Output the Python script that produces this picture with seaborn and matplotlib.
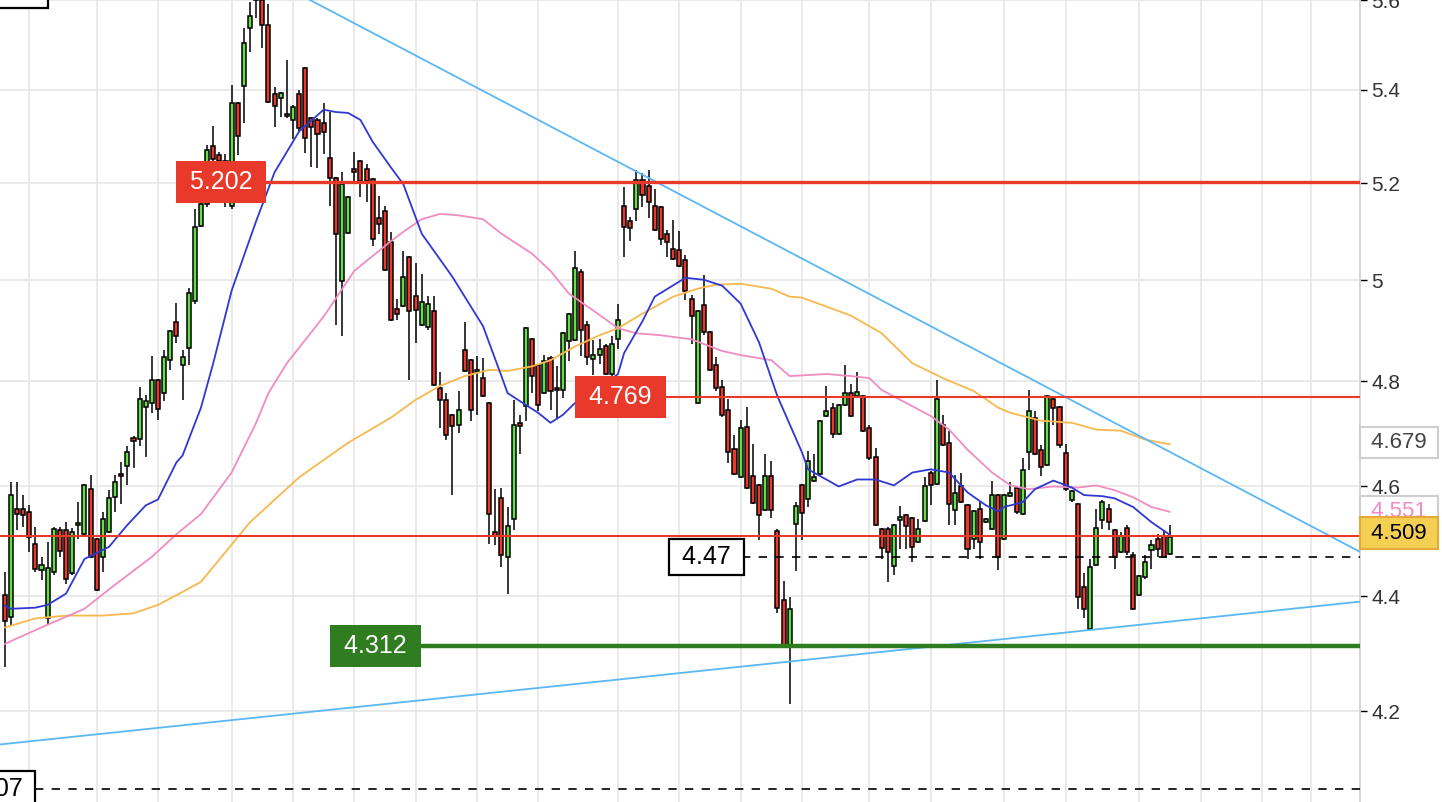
import numpy as np
import pandas as pd
import matplotlib
matplotlib.use("Agg")
import matplotlib.pyplot as plt
import matplotlib.transforms as mtransforms
from matplotlib.ticker import NullLocator
import seaborn as sns

# daily candles, index 0..190
OPENS = [4.403, 4.364, 4.558, 4.558, 4.552, 4.494, 4.448, 4.361, 4.444, 4.520,
         4.520, 4.441, 4.529, 4.512, 4.595, 4.503, 4.471, 4.516, 4.580, 4.623,
         4.639, 4.692, 4.690, 4.751, 4.758, 4.802, 4.777, 4.841, 4.916, 4.831,
         4.864, 4.959, 5.111, 5.156, 5.278, 5.259, 5.248, 5.152, 5.372, 5.408,
         5.538, 5.650, 5.600, 5.543, 5.391, 5.382, 5.348, 5.335, 5.391, 5.448,
         5.340, 5.335, 5.329, 5.254, 5.212, 4.999, 5.097, 5.231, 5.246, 5.231,
         5.208, 5.127, 5.142, 5.078, 4.943, 4.949, 5.048, 4.969, 4.910, 4.906,
         4.939, 4.787, 4.764, 4.735, 4.716, 4.861, 4.841, 4.818, 4.806, 4.758,
         4.516, 4.578, 4.471, 4.540, 4.720, 4.752, 4.882, 4.831, 4.777, 4.845,
         4.787, 4.783, 4.878, 4.880, 5.017, 4.910, 4.843, 4.851, 4.868, 4.814,
         4.883, 5.152, 5.121, 5.146, 5.206, 5.194, 5.152, 5.150, 5.095, 5.064,
         5.062, 5.042, 4.963, 4.758, 4.950, 4.897, 4.831, 4.789, 4.745, 4.671,
         4.617, 4.712, 4.620, 4.603, 4.557, 4.620, 4.518, 4.393, 4.312, 4.531,
         4.602, 4.576, 4.611, 4.624, 4.733, 4.749, 4.699, 4.754, 4.777, 4.772,
         4.772, 4.711, 4.656, 4.521, 4.521, 4.455, 4.538, 4.547, 4.542, 4.498,
         4.536, 4.626, 4.604, 4.716, 4.682, 4.556, 4.600, 4.565, 4.503, 4.558,
         4.534, 4.521, 4.584, 4.503, 4.582, 4.597, 4.549, 4.664, 4.730, 4.669,
         4.641, 4.766, 4.751, 4.662, 4.574, 4.567, 4.417, 4.342, 4.456, 4.538,
         4.558, 4.520, 4.480, 4.523, 4.474, 4.403, 4.435, 4.483, 4.503, 4.509,
         4.476]
HIGHS = [4.444, 4.608, 4.608, 4.584, 4.565, 4.525, 4.471, 4.498, 4.525, 4.525,
         4.534, 4.523, 4.571, 4.604, 4.621, 4.505, 4.552, 4.593, 4.622, 4.645,
         4.675, 4.694, 4.789, 4.773, 4.849, 4.804, 4.861, 4.900, 4.955, 4.861,
         4.985, 5.146, 5.171, 5.282, 5.322, 5.267, 5.261, 5.411, 5.374, 5.536,
         5.595, 5.670, 5.610, 5.590, 5.406, 5.395, 5.465, 5.368, 5.400, 5.450,
         5.342, 5.340, 5.372, 5.352, 5.214, 5.223, 5.173, 5.267, 5.250, 5.240,
         5.212, 5.173, 5.152, 5.099, 4.963, 5.060, 5.050, 5.035, 5.013, 4.969,
         4.969, 4.818, 4.777, 4.737, 4.781, 4.916, 4.843, 4.849, 4.845, 4.760,
         4.595, 4.598, 4.562, 4.764, 4.735, 4.906, 4.884, 4.833, 4.851, 4.849,
         4.829, 4.896, 4.935, 5.060, 5.023, 4.918, 4.880, 4.883, 4.872, 4.888,
         4.953, 5.192, 5.129, 5.228, 5.221, 5.228, 5.188, 5.152, 5.103, 5.123,
         5.101, 5.052, 4.971, 4.941, 5.011, 4.899, 4.848, 4.803, 4.765, 4.697,
         4.726, 4.751, 4.680, 4.604, 4.660, 4.647, 4.521, 4.428, 4.399, 4.571,
         4.604, 4.667, 4.660, 4.726, 4.791, 4.758, 4.756, 4.831, 4.795, 4.818,
         4.774, 4.716, 4.673, 4.523, 4.525, 4.531, 4.563, 4.549, 4.544, 4.540,
         4.617, 4.628, 4.802, 4.735, 4.705, 4.622, 4.626, 4.567, 4.556, 4.571,
         4.541, 4.611, 4.586, 4.586, 4.608, 4.599, 4.654, 4.783, 4.743, 4.677,
         4.774, 4.772, 4.753, 4.679, 4.593, 4.569, 4.441, 4.467, 4.558, 4.574,
         4.567, 4.522, 4.516, 4.529, 4.480, 4.439, 4.474, 4.502, 4.512, 4.520,
         4.529]
LOWS = [4.277, 4.350, 4.520, 4.525, 4.480, 4.444, 4.430, 4.350, 4.439, 4.471,
        4.423, 4.438, 4.503, 4.510, 4.469, 4.410, 4.444, 4.514, 4.552, 4.567,
        4.602, 4.635, 4.675, 4.656, 4.739, 4.726, 4.762, 4.822, 4.874, 4.764,
        4.831, 4.953, 5.109, 5.150, 5.233, 5.219, 5.150, 5.146, 5.259, 5.329,
        5.483, 5.560, 5.492, 5.372, 5.320, 5.342, 5.340, 5.293, 5.310, 5.265,
        5.235, 5.233, 5.261, 5.152, 4.910, 4.888, 5.095, 5.198, 5.171, 5.160,
        5.070, 5.095, 5.019, 4.918, 4.921, 4.947, 4.802, 4.874, 4.908, 4.900,
        4.791, 4.711, 4.688, 4.585, 4.701, 4.818, 4.724, 4.735, 4.770, 4.494,
        4.492, 4.453, 4.405, 4.520, 4.660, 4.724, 4.777, 4.743, 4.775, 4.745,
        4.730, 4.768, 4.839, 4.878, 4.849, 4.831, 4.812, 4.833, 4.812, 4.810,
        4.862, 5.048, 5.080, 5.121, 5.150, 5.127, 5.101, 5.072, 5.048, 5.042,
        5.027, 4.961, 4.872, 4.756, 4.890, 4.820, 4.782, 4.732, 4.643, 4.621,
        4.615, 4.595, 4.568, 4.502, 4.555, 4.541, 4.371, 4.310, 4.213, 4.446,
        4.502, 4.562, 4.609, 4.621, 4.731, 4.692, 4.697, 4.752, 4.731, 4.768,
        4.703, 4.649, 4.527, 4.467, 4.426, 4.439, 4.485, 4.485, 4.462, 4.496,
        4.534, 4.565, 4.602, 4.675, 4.529, 4.529, 4.569, 4.467, 4.485, 4.467,
        4.533, 4.519, 4.448, 4.501, 4.580, 4.550, 4.547, 4.630, 4.658, 4.619,
        4.639, 4.716, 4.673, 4.591, 4.571, 4.377, 4.361, 4.340, 4.454, 4.521,
        4.520, 4.449, 4.478, 4.474, 4.376, 4.401, 4.431, 4.449, 4.471, 4.469,
        4.474]
CLOSES = [4.357, 4.584, 4.549, 4.547, 4.507, 4.449, 4.456, 4.451, 4.521, 4.482,
          4.431, 4.516, 4.532, 4.602, 4.471, 4.412, 4.540, 4.578, 4.608, 4.620,
          4.665, 4.686, 4.766, 4.762, 4.802, 4.747, 4.847, 4.898, 4.888, 4.847,
          4.975, 5.109, 5.156, 5.271, 5.252, 5.248, 5.160, 5.372, 5.301, 5.503,
          5.565, 5.600, 5.543, 5.374, 5.365, 5.393, 5.344, 5.363, 5.318, 5.297,
          5.320, 5.305, 5.310, 5.212, 5.095, 5.198, 5.171, 5.223, 5.204, 5.204,
          5.084, 5.115, 5.021, 4.920, 4.933, 5.007, 4.939, 4.941, 4.957, 4.953,
          4.793, 4.764, 4.696, 4.714, 4.745, 4.820, 4.745, 4.822, 4.772, 4.549,
          4.509, 4.474, 4.527, 4.716, 4.714, 4.904, 4.810, 4.754, 4.839, 4.781,
          4.783, 4.894, 4.933, 5.025, 4.900, 4.847, 4.851, 4.863, 4.814, 4.872,
          4.921, 5.109, 5.106, 5.206, 5.176, 5.161, 5.103, 5.084, 5.078, 5.044,
          5.029, 4.979, 4.929, 4.939, 4.897, 4.822, 4.786, 4.734, 4.665, 4.623,
          4.711, 4.597, 4.570, 4.548, 4.620, 4.557, 4.380, 4.312, 4.377, 4.563,
          4.551, 4.647, 4.617, 4.724, 4.743, 4.699, 4.754, 4.777, 4.733, 4.779,
          4.705, 4.654, 4.529, 4.487, 4.480, 4.529, 4.543, 4.527, 4.489, 4.521,
          4.600, 4.602, 4.766, 4.677, 4.567, 4.587, 4.571, 4.485, 4.554, 4.498,
          4.540, 4.584, 4.471, 4.584, 4.587, 4.552, 4.630, 4.743, 4.660, 4.637,
          4.772, 4.749, 4.677, 4.595, 4.591, 4.399, 4.377, 4.453, 4.523, 4.572,
          4.534, 4.471, 4.509, 4.480, 4.378, 4.437, 4.462, 4.492, 4.485, 4.471,
          4.507]

# moving averages, sampled at candle index
MA_FAST_X = [0, 1, 5, 7, 10, 13, 17, 20, 23, 25, 28, 29, 32, 34, 37, 41, 44, 48,
             52, 54, 56, 58, 60, 63, 65, 68, 73, 78, 81, 82, 85, 87, 89, 91, 93,
             97, 100, 101, 104, 106, 111, 114, 117, 120, 123, 126, 130, 131, 136,
             139, 142, 145, 148, 151, 154, 157, 160, 162, 163, 166, 168, 171, 174,
             176, 179, 181, 184, 187, 190]
MA_FAST_Y = [4.384, 4.378, 4.380, 4.385, 4.405, 4.467, 4.489, 4.529, 4.565, 4.576,
             4.645, 4.658, 4.749, 4.835, 4.979, 5.121, 5.223, 5.310, 5.357, 5.352,
             5.350, 5.335, 5.288, 5.233, 5.198, 5.095, 5.007, 4.908, 4.810, 4.777,
             4.754, 4.739, 4.720, 4.735, 4.758, 4.787, 4.814, 4.855, 4.918, 4.967,
             5.005, 5.001, 4.989, 4.953, 4.876, 4.771, 4.664, 4.632, 4.600, 4.613,
             4.613, 4.602, 4.626, 4.632, 4.626, 4.589, 4.565, 4.554, 4.562, 4.571,
             4.595, 4.611, 4.598, 4.584, 4.582, 4.578, 4.562, 4.534, 4.511]
MA_MID_X = [0, 2, 7, 13, 18, 24, 28, 32, 37, 41, 43, 46, 52, 57, 63, 65, 68, 71,
            74, 78, 81, 86, 89, 92, 96, 100, 103, 107, 112, 117, 120, 125, 128,
            134, 138, 141, 143, 147, 151, 154, 157, 161, 164, 167, 171, 175, 178,
            181, 184, 187, 190]
MA_MID_Y = [4.316, 4.326, 4.350, 4.378, 4.421, 4.471, 4.512, 4.549, 4.626, 4.720,
            4.777, 4.835, 4.927, 5.019, 5.080, 5.099, 5.125, 5.136, 5.133, 5.125,
            5.095, 5.054, 5.019, 4.973, 4.939, 4.904, 4.894, 4.890, 4.882, 4.859,
            4.851, 4.841, 4.810, 4.814, 4.810, 4.806, 4.783, 4.758, 4.733, 4.707,
            4.669, 4.626, 4.602, 4.595, 4.600, 4.598, 4.602, 4.593, 4.580, 4.562,
            4.553]
MA_SLOW_X = [0, 5, 10, 16, 21, 25, 29, 32, 40, 48, 56, 63, 67, 71, 75, 79, 82, 86,
             89, 93, 97, 100, 104, 109, 113, 116, 120, 125, 128, 130, 138, 143,
             148, 153, 158, 162, 164, 169, 174, 178, 182, 186, 190]
MA_SLOW_Y = [4.345, 4.361, 4.366, 4.366, 4.370, 4.385, 4.408, 4.426, 4.534, 4.617,
             4.682, 4.730, 4.764, 4.791, 4.810, 4.822, 4.820, 4.829, 4.841, 4.868,
             4.890, 4.904, 4.933, 4.967, 4.983, 4.991, 4.993, 4.983, 4.967, 4.965,
             4.929, 4.894, 4.835, 4.806, 4.781, 4.749, 4.739, 4.724, 4.720, 4.707,
             4.705, 4.688, 4.679]

# trend lines (index, price)
TREND_DOWN = ([48.15, 221.0], [5.612, 4.480])
TREND_UP = ([-0.77, 221.0], [4.1443, 4.3907])

LEVEL_HIGH = 5.202
LEVEL_MID = 4.769
LEVEL_LAST = 4.509
LEVEL_PIVOT = 4.47
LEVEL_LOW = 4.312
LEVEL_FLOOR = 4.07

Y_TICKS = [4.2, 4.4, 4.6, 4.8, 5.0, 5.2, 5.4, 5.6]
Y_TICK_LABELS = ["4.2", "4.4", "4.6", "4.8", "5", "5.2", "5.4", "5.6"]
GRID_X = [4, 15, 25, 37, 47, 57, 67, 77, 87, 100, 110, 120, 130, 141, 151, 163,
          173, 185, 195, 205, 213]

RED = "#e8392b"
GREEN_BODY = "#66df46"
LINE_GREEN = "#2f7d20"
BLUE = "#2f38d3"
PINK = "#f08cc2"
ORANGE = "#f7b84d"
SKY = "#5bb7f3"
THIN = "\u2009"

sns.set_theme(style="white")
plt.rcParams["font.family"] = ["Liberation Sans", "DejaVu Sans"]

df = pd.DataFrame({"open": OPENS, "high": HIGHS, "low": LOWS, "close": CLOSES})
df["i"] = np.arange(len(df))
up = df["close"] >= df["open"]

fig = plt.figure(figsize=(14.42, 8.02), dpi=100)
ax = fig.add_axes([0, 0, 1360 / 1442, 1])
ax.set_yscale("log")

for g in GRID_X:
    ax.axvline(g, color="#e6e6e6", lw=1.2, zorder=0)
for t in Y_TICKS:
    ax.axhline(t, color="#e6e6e6", lw=1.2, zorder=0)

# candles
ax.vlines(df["i"], df["low"], df["high"], color="black", lw=1.1, zorder=3)
body_lo = np.minimum(df["open"], df["close"])
body_h = np.maximum(np.abs(df["close"] - df["open"]), 0.0015)
ax.bar(df["i"], body_h, bottom=body_lo, width=0.66,
       color=np.where(up, GREEN_BODY, RED), edgecolor="black",
       linewidth=1.1, zorder=4)

# moving averages
sns.lineplot(x=MA_SLOW_X, y=MA_SLOW_Y, ax=ax, color=ORANGE, linewidth=1.3,
             estimator=None, sort=False, zorder=5)
sns.lineplot(x=MA_MID_X, y=MA_MID_Y, ax=ax, color=PINK, linewidth=1.3,
             estimator=None, sort=False, zorder=5)
sns.lineplot(x=MA_FAST_X, y=MA_FAST_Y, ax=ax, color=BLUE, linewidth=1.3,
             estimator=None, sort=False, zorder=5)

# trend lines
ax.plot(*TREND_DOWN, color=SKY, lw=1.3, zorder=5)
ax.plot(*TREND_UP, color=SKY, lw=1.3, zorder=5)

# horizontal levels
xr = 221.0
ax.hlines(LEVEL_HIGH, 42.4, xr, color=RED, lw=2.4, zorder=6)
ax.hlines(LEVEL_MID, 107.3, xr, color=RED, lw=1.5, zorder=6)
ax.hlines(LEVEL_LAST, -1, xr, color=RED, lw=1.5, zorder=6)
ax.hlines(LEVEL_PIVOT, 120.2, xr, color="black", lw=1.2, linestyles=(0, (5, 5)), zorder=6)
ax.hlines(LEVEL_LOW, 67.4, xr, color=LINE_GREEN, lw=3.2, zorder=6)
ax.hlines(LEVEL_FLOOR, 4.9, xr, color="black", lw=1.2, linestyles=(0, (5, 5)), zorder=6)


def tag(x, y, s, fc, tc, ec="none", ha="center", pad=0.36, sp=THIN):
    ax.text(x, y, sp + s + sp, ha=ha, va="center", color=tc, fontsize=18,
            bbox=dict(boxstyle=f"square,pad={pad}", fc=fc, ec=ec, lw=1.6),
            zorder=7, clip_on=False)


tag(35.3, LEVEL_HIGH, "5.202", RED, "white")
tag(100.4, LEVEL_MID, "4.769", RED, "white")
tag(60.5, LEVEL_LOW, "4.312", LINE_GREEN, "white")
tag(114.4, LEVEL_PIVOT, "4.47", "white", "black", ec="black", pad=0.24, sp=" ")
tag(4.0, LEVEL_FLOOR, "4.07", "white", "black", ec="black", ha="right", pad=0.24, sp=" ")
tag(6.1, 5.622, "5.624", "white", "black", ec="black", ha="right", pad=0.24, sp=" ")

# right axis
ax.set_xlim(-0.77, 221.0)
ax.set_ylim(4.049, 5.588)
ax.yaxis.tick_right()
ax.yaxis.set_minor_locator(NullLocator())
ax.set_yticks(Y_TICKS)
ax.set_yticklabels(Y_TICK_LABELS)
ax.tick_params(axis="y", which="major", right=True, length=5, width=1,
               color="black", labelsize=15, labelcolor="#333333", pad=3)
ax.set_xticks([])
for side in ["top", "left", "bottom"]:
    ax.spines[side].set_visible(False)
ax.spines["right"].set_color("#d6d6d6")
ax.spines["right"].set_linewidth(1.5)

trans = mtransforms.blended_transform_factory(fig.transFigure, ax.transData)
box_x = 1399 / 1442
ax.text(box_x, 4.683, " 4.679 ", transform=trans, ha="center", va="center",
        fontsize=16, color="#444444", clip_on=False, zorder=8,
        bbox=dict(boxstyle="square,pad=0.22", fc="white", ec="#cfcfcf", lw=1.5))
ax.text(box_x, 4.553, " 4.551 ", transform=trans, ha="center", va="center",
        fontsize=16, color=PINK, clip_on=False, zorder=8,
        bbox=dict(boxstyle="square,pad=0.22", fc="white", ec="#cfcfcf", lw=1.5))
ax.text(box_x, 4.514, " 4.509 ", transform=trans, ha="center", va="center",
        fontsize=16, color="black", clip_on=False, zorder=9,
        bbox=dict(boxstyle="square,pad=0.24", fc="#f5cf52", ec="#e3a93b", lw=1.5))

fig.savefig("out.png", dpi=100)
